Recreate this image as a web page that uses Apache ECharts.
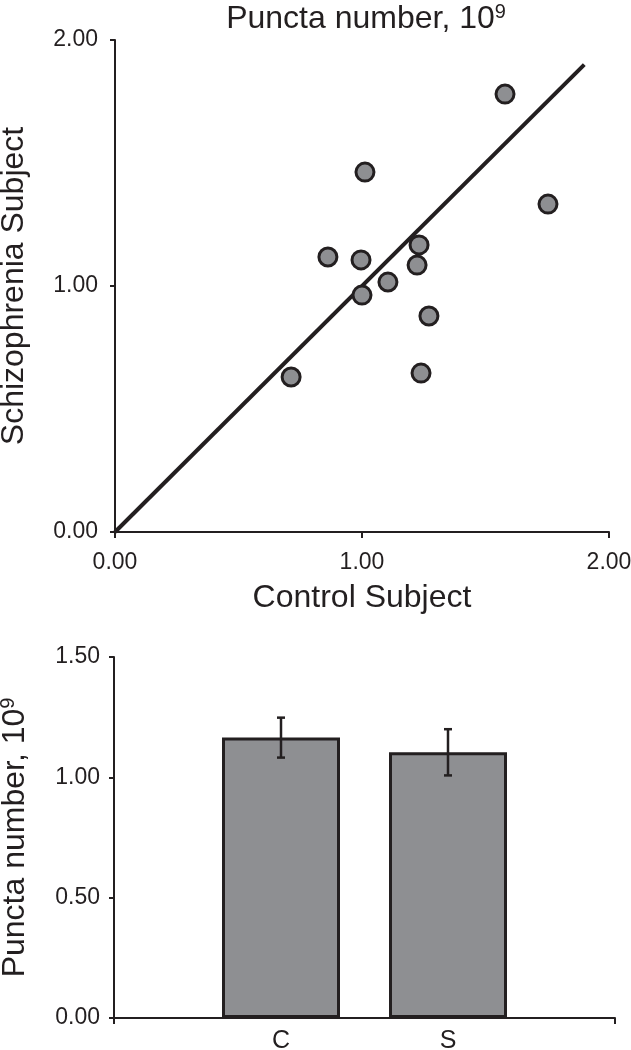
<!DOCTYPE html>
<html>
<head>
<meta charset="utf-8">
<script src="https://cdn.jsdelivr.net/npm/echarts@6/dist/echarts.min.js"></script>
<style>
html,body{margin:0;padding:0;background:#fff;}
#main{width:631px;height:1050px;}
</style>
</head>
<body>
<div id="main"></div>
<script>
// Scatter: control vs schizophrenia pairs
const controlValues = [0.713, 0.862, 1.012, 0.996, 1.000, 1.105, 1.231, 1.223, 1.271, 1.239, 1.579, 1.753];
const schizValues   = [0.630, 1.118, 1.463, 1.106, 0.963, 1.016, 1.167, 1.085, 0.878, 0.646, 1.780, 1.333];
const identityLine  = [0, 1.9];
const scatterTicks  = [0, 1, 2];

// Bar: group means and errors
const categories = ['C', 'S'];
const means      = [1.165, 1.104];
const errors     = [0.083, 0.096];
const barTicks   = [0, 0.5, 1.0, 1.5];

const ink = '#231f20';
const grey = '#8e8f92';
const font = 'Liberation Sans, Arial, sans-serif';

const scatterData = controlValues.map((x, i) => [x, schizValues[i]]);
const lineData = identityLine.map(v => [v, v]);
const xCats = [''].concat(categories, ['']);
const barData = categories.map((c, i) => [c, means[i]]);
const errData = categories.map((c, i) => [c, means[i], errors[i]]);

const chart = echarts.init(document.getElementById('main'), null, {renderer: 'canvas'});

const tickFont = 23;
const nameFont = 32;
const supStyle = {fontSize: 20, verticalAlign: 'top', padding: [0, 0, 14, 0], color: ink, fontFamily: font};

chart.setOption({
  animation: false,
  backgroundColor: '#fff',
  textStyle: {fontFamily: font, color: ink},
  title: {
    text: 'Puncta number, 10{sup|9}',
    left: 361, top: -3, textAlign: 'center',
    textStyle: {
      fontSize: nameFont, fontWeight: 'normal', color: ink, fontFamily: font,
      rich: {sup: supStyle}
    }
  },
  grid: [
    {left: 115, right: 22, top: 40, height: 492, outerBoundsMode: 'none', containLabel: false},
    {left: 114, right: 16, top: 657, height: 361, outerBoundsMode: 'none', containLabel: false}
  ],
  xAxis: [
    {
      gridIndex: 0, type: 'value', min: scatterTicks[0], max: scatterTicks[scatterTicks.length - 1], interval: 1,
      name: 'Control Subject', nameLocation: 'middle', nameGap: 50,
      nameTextStyle: {fontSize: nameFont, color: ink, fontFamily: font},
      axisLine: {show: true, onZero: false, lineStyle: {color: ink, width: 2}},
      axisTick: {show: true, inside: false, length: 6, lineStyle: {color: ink, width: 2}},
      axisLabel: {fontSize: tickFont, color: ink, margin: 19, formatter: v => v.toFixed(2), fontFamily: font},
      splitLine: {show: false}
    },
    {
      gridIndex: 1, type: 'category', data: xCats, boundaryGap: false,
      axisLine: {show: true, onZero: false, lineStyle: {color: ink, width: 2}},
      axisTick: {show: true, inside: false, length: 6, lineStyle: {color: ink, width: 2},
                 interval: (i) => i === 0 || i === xCats.length - 1},
      axisLabel: {fontSize: 25, color: ink, margin: 11, interval: 0, fontFamily: font},
      splitLine: {show: false}
    }
  ],
  yAxis: [
    {
      gridIndex: 0, type: 'value', min: scatterTicks[0], max: scatterTicks[scatterTicks.length - 1], interval: 1,
      name: 'Schizophrenia Subject', nameLocation: 'middle', nameGap: 85, nameRotate: 90,
      nameTextStyle: {fontSize: nameFont, color: ink, fontFamily: font},
      axisLine: {show: true, onZero: false, lineStyle: {color: ink, width: 2}},
      axisTick: {show: true, inside: false, length: 5, lineStyle: {color: ink, width: 2}},
      axisLabel: {fontSize: tickFont, color: ink, margin: 17, formatter: v => v.toFixed(2), fontFamily: font},
      splitLine: {show: false}
    },
    {
      gridIndex: 1, type: 'value', min: barTicks[0], max: barTicks[barTicks.length - 1], interval: 0.5,
      name: 'Puncta number, 10{sup|9}', nameLocation: 'middle', nameGap: 82, nameRotate: 90,
      nameTextStyle: {fontSize: nameFont, color: ink, fontFamily: font, rich: {sup: supStyle}},
      axisLine: {show: true, onZero: false, lineStyle: {color: ink, width: 2}},
      axisTick: {show: true, inside: false, length: 5, lineStyle: {color: ink, width: 2}},
      axisLabel: {fontSize: tickFont, color: ink, margin: 14, formatter: v => v.toFixed(2), fontFamily: font},
      splitLine: {show: false}
    }
  ],
  series: [
    {
      type: 'line', xAxisIndex: 0, yAxisIndex: 0, data: lineData,
      symbol: 'none', lineStyle: {color: ink, width: 4}, z: 2
    },
    {
      type: 'scatter', xAxisIndex: 0, yAxisIndex: 0, data: scatterData,
      symbol: 'circle', symbolSize: 18,
      itemStyle: {color: grey, borderColor: ink, borderWidth: 3, opacity: 1}, z: 3
    },
    {
      type: 'bar', xAxisIndex: 1, yAxisIndex: 1, data: barData, barWidth: 118,
      itemStyle: {color: grey, borderColor: ink, borderWidth: 3}, z: 2
    },
    {
      type: 'custom', xAxisIndex: 1, yAxisIndex: 1, data: errData, z: 5,
      renderItem: function (params, api) {
        const x = api.value(0);
        const m = api.value(1);
        const e = api.value(2);
        const hi = api.coord([x, m + e]);
        const lo = api.coord([x, m - e]);
        const cap = 4;
        const style = {stroke: ink, lineWidth: 2.5};
        return {
          type: 'group',
          children: [
            {type: 'line', shape: {x1: hi[0], y1: hi[1], x2: lo[0], y2: lo[1]}, style: style},
            {type: 'line', shape: {x1: hi[0] - cap, y1: hi[1], x2: hi[0] + cap, y2: hi[1]}, style: style},
            {type: 'line', shape: {x1: lo[0] - cap, y1: lo[1], x2: lo[0] + cap, y2: lo[1]}, style: style}
          ]
        };
      }
    }
  ]
});
</script>
</body>
</html>
